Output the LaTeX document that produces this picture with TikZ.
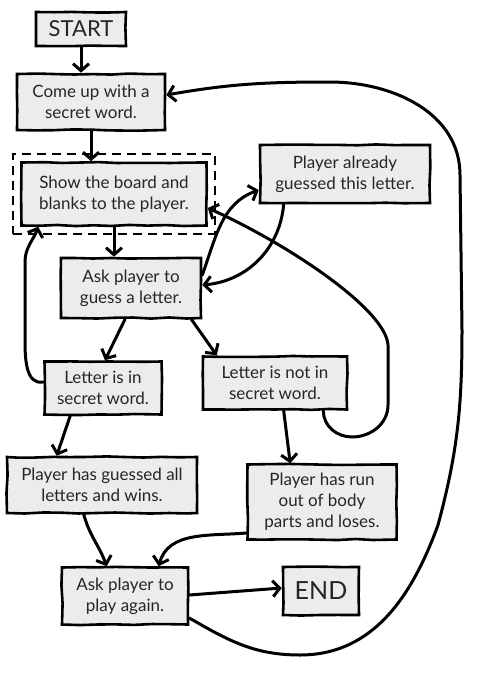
\documentclass[tikz,border=0pt]{standalone}
\usepackage{fontspec}
\setmainfont{Lato}
\usetikzlibrary{positioning,fit,arrows.meta,decorations.pathmorphing}
\tikzset{block/.style={draw, rectangle, fill=gray!15, line width=2.6pt, align=center,
        inner sep=3pt, font=\fontsize{17}{21}\selectfont, text=black!85,
        decoration={random steps,segment length=18pt,amplitude=0.6pt}, decorate}
}
\tikzstyle{flow} = [->, line width=3pt, line cap=round, line join=round]

\begin{document}
\begin{tikzpicture}[x=1pt, y=1pt, >={Straight Barb[length=7pt,width=16pt]}]
    \useasboundingbox (0,0) rectangle (480,-675);

    \node [block, minimum width=90pt, minimum height=34pt, font=\fontsize{22}{24}\selectfont] (start) at (81,-29) {START};
    \node [block, minimum width=148pt, minimum height=56pt] (comeup) at (91,-102) {Come up with a\\secret word.};
    \node [block, minimum width=185pt, minimum height=63pt] (show) at (114,-194) {Show the board and\\blanks to the player.};
    \node [draw, dash pattern=on 9pt off 6pt, line width=2.4pt, inner sep=7pt, fit=(show)] (focus) {};
    \node [block, minimum width=170pt, minimum height=58pt] (already) at (345,-174) {Player already\\guessed this letter.};
    \node [block, minimum width=140pt, minimum height=60pt] (askguess) at (131,-288) {Ask player to\\guess a letter.};
    \node [block, minimum width=117pt, minimum height=53pt] (letterin) at (103,-388) {Letter is in\\secret word.};
    \node [block, minimum width=144pt, minimum height=53pt] (letternot) at (275,-383) {Letter is not in\\secret word.};
    \node [block, minimum width=190pt, minimum height=56pt] (wins) at (102,-485) {Player has guessed all\\letters and wins.};
    \node [block, minimum width=149pt, minimum height=75pt] (loses) at (322,-502) {Player has run\\out of body\\parts and loses.};
    \node [block, minimum width=126pt, minimum height=57pt] (askagain) at (125,-596) {Ask player to\\play again.};
    \node [block, minimum width=76pt, minimum height=48pt, font=\fontsize{25}{27}\selectfont] (end) at (321,-591) {END};

    \draw [flow] (start.south) -- (start.south |- comeup.north);
    \draw [flow] (comeup.south) -- (comeup.south |- show.north);
    \draw [flow] (show.south) -- (show.south |- askguess.north);
    \draw [flow] ([yshift=13pt]askguess.east) to[out=70, in=200] ([yshift=-16pt]already.west);
    \draw [flow] ([xshift=25pt]already.south west) to[out=-95, in=5] ([yshift=3pt]askguess.east);
    \draw [flow] ([xshift=-25pt]letternot.south east) to[out=-90, in=180] (352,-437)
        to[out=0, in=-90] (388,-405) -- (388,-345)
        .. controls (386,-310) and (290,-245) .. ([yshift=-14pt]show.east);
    \draw [flow] ([xshift=-6pt]askguess.south) -- ([xshift=2pt]letterin.north);
    \draw [flow] ([xshift=-11pt]askguess.south east) -- ([xshift=15pt]letternot.north west);
    \draw [flow] ([yshift=6pt]letterin.west) to[out=190, in=-90] (25,-340) -- (25,-262)
        to[out=90, in=-110] ([xshift=18pt]show.south west);
    \draw [flow] ([xshift=27pt]letterin.south west) -- ([xshift=51pt]wins.north west);
    \draw [flow] ([xshift=82pt]letternot.south west) -- ([xshift=44pt]loses.north west);
    \draw [flow] ([xshift=78pt]wins.south west) to[out=-75, in=110] ([xshift=46pt]askagain.north west);
    \draw [flow] ([yshift=-31pt]loses.west) to[out=185, in=75] ([xshift=98pt]askagain.north west);
    \draw [flow] ([yshift=1pt]askagain.east) -- ([yshift=3pt]end.west);
    % play again loops back to the start
    \draw [flow] ([yshift=-22pt]askagain.east) to[out=-30, in=180] (300,-655)
        to[out=0, in=-110] (438,-525) to[out=75, in=-90] (462,-330) -- (460,-175)
        to[out=90, in=0] (330,-82) to[out=180, in=10] ([yshift=7pt]comeup.east);
\end{tikzpicture}
\end{document}
